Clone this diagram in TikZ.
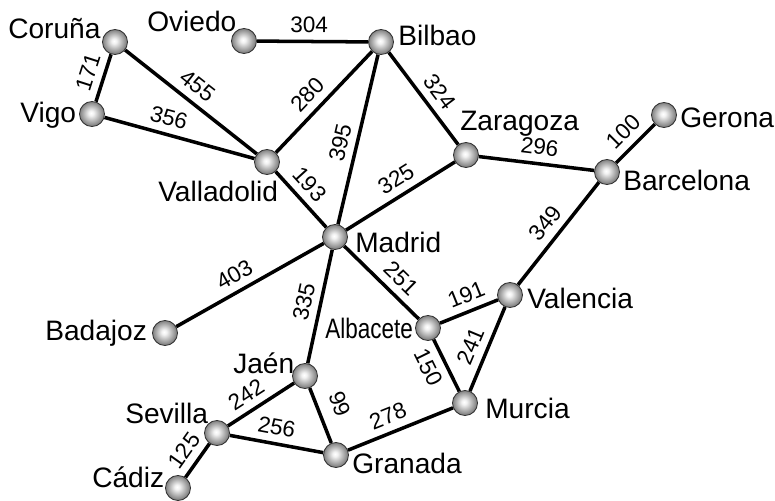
\documentclass[tikz,border=0pt]{standalone}
\usepackage{fontspec}
\setmainfont{Liberation Sans}
\usetikzlibrary{backgrounds}
\pgfdeclareradialshading{cityball}{\pgfpoint{-2bp}{2bp}}{color(0bp)=(white); color(5bp)=(white!95!black); color(25bp)=(black!52); color(50bp)=(black!52)}

\begin{document}
\begin{tikzpicture}[x=0.025cm, y=-0.025cm,
  city/.style={circle, draw=black!80, line width=0.6pt, shading=cityball, minimum size=0.625cm, inner sep=0pt},
  cityname/.style={anchor=base west, inner sep=0pt, font=\fontsize{20}{20}\selectfont},
  road/.style={line width=2.5pt},
  dist/.style={sloped, inner sep=1pt, font=\fontsize{16}{16}\selectfont}]
\useasboundingbox (0,0) rectangle (775,500);

% cities
\node[city] (coruna) at (115,42) {};
\node[city] (oviedo) at (244,41) {};
\node[city] (bilbao) at (381,42) {};
\node[city] (vigo) at (92,114) {};
\node[city] (valladolid) at (267,162) {};
\node[city] (zaragoza) at (466,155) {};
\node[city] (gerona) at (664,115) {};
\node[city] (barcelona) at (607,172) {};
\node[city] (madrid) at (335,237) {};
\node[city] (badajoz) at (165,333) {};
\node[city] (valencia) at (510,295) {};
\node[city] (albacete) at (428,328) {};
\node[city] (jaen) at (305,376) {};
\node[city] (murcia) at (465,403) {};
\node[city] (sevilla) at (217,433) {};
\node[city] (granada) at (336,455) {};
\node[city] (cadiz) at (178,488) {};

% names
\node[cityname] (coruna-n) at (8,38) {Coruña};
\node[cityname] (oviedo-n) at (147,31) {Oviedo};
\node[cityname] (vigo-n) at (20,122) {Vigo};
\node[cityname] (valladolid-n) at (158,201) {Valladolid};
\node[cityname] (bilbao-n) at (398,45) {Bilbao};
\node[cityname] (zaragoza-n) at (460,130) {Zaragoza};
\node[cityname] (gerona-n) at (680,127) {Gerona};
\node[cityname] (barcelona-n) at (623,190) {Barcelona};
\node[cityname] (madrid-n) at (355,252) {Madrid};
\node[cityname] (badajoz-n) at (45,340) {Badajoz};
\node[cityname] (albacete-n) at (325,338) {\scalebox{0.8}[1]{Albacete}};
\node[cityname] (valencia-n) at (527,308) {Valencia};
\node[cityname] (jaen-n) at (233,373) {Jaén};
\node[cityname] (murcia-n) at (485,418) {Murcia};
\node[cityname] (sevilla-n) at (125,423) {Sevilla};
\node[cityname] (granada-n) at (352,473) {Granada};
\node[cityname] (cadiz-n) at (92,487) {Cádiz};

% roads
\begin{scope}[on background layer]
\foreach \a/\b/\p/\w in {vigo/coruna/0.51/171, coruna/valladolid/0.47/455,
    vigo/valladolid/0.40/356, oviedo/bilbao/0.47/304, valladolid/bilbao/0.455/280,
    madrid/bilbao/0.46/395, bilbao/zaragoza/0.54/324, valladolid/madrid/0.43/193,
    madrid/zaragoza/0.54/325, zaragoza/barcelona/0.51/296, barcelona/gerona/0.5/100,
    valencia/barcelona/0.50/349, badajoz/madrid/0.45/403, madrid/albacete/0.61/251,
    jaen/madrid/0.51/335, albacete/valencia/0.56/191, murcia/valencia/0.46/241,
    sevilla/jaen/0.41/242, sevilla/granada/0.47/256, cadiz/sevilla/0.51/125,
    granada/murcia/0.44/278}
  {\draw[road] (\a) -- node[dist, pos=\p, above=4pt] (d\w) {\w} (\b);}
\draw[road] (albacete) -- node[dist, pos=0.39, below=4pt] (d150) {150} (murcia);
\draw[road] (jaen) -- node[dist, pos=0.44, above=8pt] (d99) {99} (granada);
\end{scope}

\end{tikzpicture}
\end{document}
